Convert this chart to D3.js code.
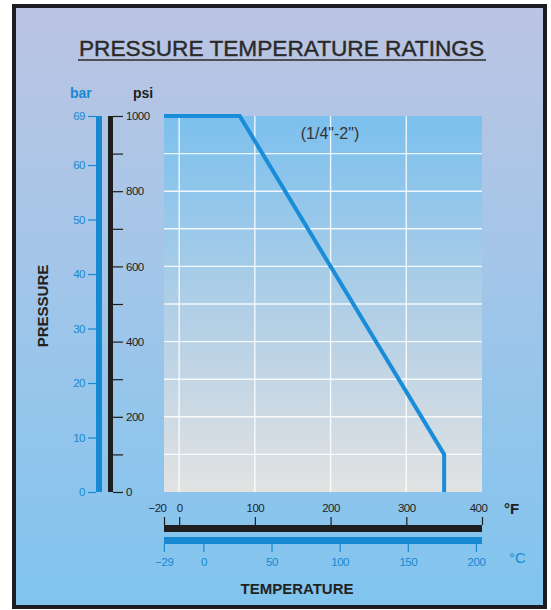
<!DOCTYPE html>
<html>
<head>
<meta charset="utf-8">
<script src="https://cdn.jsdelivr.net/npm/d3@7"></script>
<style>
  body { margin: 0; background: #fff; }
  svg { display: block; font-family: "Liberation Sans", Arial, sans-serif; }
</style>
</head>
<body>
<svg id="chart" width="551" height="610"></svg>
<script>
// rating curve, (1/4"-2")
const tempF = [-20, 80, 350, 350];
const psi   = [1000, 1000, 100, 0];

// axis ticks
const barTicks = [0, 10, 20, 30, 40, 50, 60, 69];
const psiTicks = [0, 100, 200, 300, 400, 500, 600, 700, 800, 900, 1000];
const psiLabels = [0, 200, 400, 600, 800, 1000];
const fTicks = [-20, 0, 100, 200, 300, 400];
const cTicks = [-29, 0, 50, 100, 150, 200];
const gridF = [0, 100, 200, 300];
const gridPsi = [100, 200, 300, 400, 500, 600, 700, 800, 900];

const svg = d3.select("#chart");
const blue = "#1689d2";
const dark = "#1e1e1e";
const tickFont = "'Liberation Sans', Arial, sans-serif";

const x = d3.scaleLinear().domain([-20, 400]).range([164, 482]);
const xC = d3.scaleLinear().domain([(-20 - 32) * 5 / 9, (400 - 32) * 5 / 9]).range([164, 482]);
const y = d3.scaleLinear().domain([0, 1000]).range([492, 116]);
const yBar = d3.scaleLinear().domain([0, 69]).range([492, 116]);

const defs = svg.append("defs");
const bg = defs.append("linearGradient").attr("id", "bg").attr("x1", 0).attr("y1", 0).attr("x2", 0).attr("y2", 1);
bg.append("stop").attr("offset", "0%").attr("stop-color", "#bcc4e2");
bg.append("stop").attr("offset", "35%").attr("stop-color", "#a8c6e8");
bg.append("stop").attr("offset", "100%").attr("stop-color", "#80c4ee");
const pg = defs.append("linearGradient").attr("id", "pg").attr("x1", 0).attr("y1", 0).attr("x2", 0).attr("y2", 1);
pg.append("stop").attr("offset", "0%").attr("stop-color", "#7cc0ee");
pg.append("stop").attr("offset", "55%").attr("stop-color", "#b4d0e6");
pg.append("stop").attr("offset", "100%").attr("stop-color", "#e2e2e2");

// frame
svg.append("rect")
  .attr("x", 14).attr("y", 6).attr("width", 531).attr("height", 601)
  .attr("fill", "url(#bg)").attr("stroke", "#1c1c22").attr("stroke-width", 4);

// title
svg.append("text")
  .attr("x", 79).attr("y", 56)
  .attr("textLength", 405)
  .attr("lengthAdjust", "spacingAndGlyphs")
  .style("font-size", "22px")
  .attr("fill", "#2a2a2a")
  .attr("stroke", "#2a2a2a").attr("stroke-width", 0.4)
  .text("PRESSURE TEMPERATURE RATINGS");
svg.append("line")
  .attr("x1", 78).attr("x2", 486).attr("y1", 60).attr("y2", 60)
  .attr("stroke", "#2a2a2a").attr("stroke-width", 1.6);

// plot background
svg.append("rect")
  .attr("x", x(-20)).attr("y", y(1000))
  .attr("width", x(400) - x(-20)).attr("height", y(0) - y(1000))
  .attr("fill", "url(#pg)");

// grid
svg.append("g").selectAll("line").data(gridF).join("line")
  .attr("x1", d => x(d)).attr("x2", d => x(d))
  .attr("y1", y(1000)).attr("y2", y(0))
  .attr("stroke", "#fff").attr("stroke-opacity", 0.85).attr("stroke-width", 1.4);
svg.append("g").selectAll("line").data(gridPsi).join("line")
  .attr("x1", x(-20)).attr("x2", x(400))
  .attr("y1", d => y(d)).attr("y2", d => y(d))
  .attr("stroke", "#fff").attr("stroke-opacity", 0.85).attr("stroke-width", 1.4);

// rating line
const pts = tempF.map((t, i) => [t, psi[i]]);
svg.append("path")
  .datum(pts)
  .attr("fill", "none")
  .attr("stroke", "#1a8dd8")
  .attr("stroke-width", 4)
  .attr("d", d3.line().x(d => x(d[0])).y(d => y(d[1])));

svg.append("text")
  .attr("x", 330).attr("y", 139)
  .attr("text-anchor", "middle")
  .style("font-size", "16px")
  .attr("fill", "#333")
  .text("(1/4\"-2\")");

// bar axis (blue)
svg.append("rect").attr("x", 96).attr("y", yBar(69)).attr("width", 6).attr("height", yBar(0) - yBar(69)).attr("fill", blue);
const barAxis = svg.append("g")
  .attr("transform", "translate(96,0)")
  .call(d3.axisLeft(yBar).tickValues(barTicks).tickSize(8).tickPadding(3));
barAxis.select(".domain").remove();
barAxis.selectAll("line").attr("stroke", blue).attr("stroke-width", 1.2);
barAxis.selectAll("text").attr("fill", blue).style("font-size", "11.5px").style("letter-spacing", "-0.5px").style("font-family", tickFont);

// psi axis (black)
svg.append("rect").attr("x", 108).attr("y", y(1000)).attr("width", 5).attr("height", y(0) - y(1000)).attr("fill", dark);
const psiAxis = svg.append("g")
  .attr("transform", "translate(113,0)")
  .call(d3.axisRight(y).tickValues(psiTicks).tickSize(10).tickPadding(3)
    .tickFormat(d => psiLabels.includes(d) ? d : ""));
psiAxis.select(".domain").remove();
psiAxis.selectAll("line").attr("stroke", dark).attr("stroke-width", 1.2);
psiAxis.selectAll("text").attr("fill", dark).style("font-size", "11.5px").style("letter-spacing", "-0.5px").style("font-family", tickFont);

svg.append("text").attr("x", 70).attr("y", 98)
  .style("font-size", "14px").style("font-weight", "bold").attr("fill", blue).text("bar");
svg.append("text").attr("x", 133).attr("y", 98)
  .style("font-size", "14px").style("font-weight", "bold").attr("fill", dark).text("psi");

svg.append("text")
  .attr("transform", "translate(48,306) rotate(-90)")
  .attr("text-anchor", "middle")
  .style("font-size", "15px").style("font-weight", "bold")
  .style("font-family", "'Liberation Sans Narrow', 'Liberation Sans', Arial, sans-serif")
  .attr("fill", "#222")
  .text("PRESSURE");

// °F axis (black)
svg.append("rect").attr("x", x(-20)).attr("y", 525).attr("width", x(400) - x(-20)).attr("height", 7).attr("fill", dark);
const fAxis = svg.append("g")
  .attr("transform", "translate(0,525)")
  .call(d3.axisTop(x).tickValues(fTicks).tickSize(8).tickPadding(5));
fAxis.select(".domain").remove();
fAxis.selectAll("line").attr("stroke", dark).attr("stroke-width", 1.2);
fAxis.selectAll("text").attr("fill", dark).style("font-size", "11.5px").style("letter-spacing", "-0.5px").style("font-family", tickFont)
  .attr("dx", d => d === -20 ? -7 : (d === 400 ? -4 : 0));

// °C axis (blue)
svg.append("rect").attr("x", x(-20)).attr("y", 537).attr("width", x(400) - x(-20)).attr("height", 7).attr("fill", blue);
const cAxis = svg.append("g")
  .attr("transform", "translate(0,544)")
  .call(d3.axisBottom(xC).tickValues(cTicks).tickSize(8).tickPadding(6));
cAxis.select(".domain").remove();
cAxis.selectAll("line").attr("stroke", blue).attr("stroke-width", 1.2);
cAxis.selectAll("text").attr("fill", blue).style("font-size", "11.5px").style("letter-spacing", "-0.5px").style("font-family", tickFont);

svg.append("text").attr("x", 504).attr("y", 514)
  .style("font-size", "15px").style("font-weight", "bold").attr("fill", dark).text("°F");
svg.append("text").attr("x", 509).attr("y", 563)
  .style("font-size", "15px").attr("fill", blue).text("°C");

svg.append("text")
  .attr("x", 297).attr("y", 594)
  .attr("text-anchor", "middle")
  .style("font-size", "15px").style("font-weight", "bold")
  .style("font-family", "'Liberation Sans Narrow', 'Liberation Sans', Arial, sans-serif")
  .attr("fill", "#222")
  .text("TEMPERATURE");
</script>
</body>
</html>
